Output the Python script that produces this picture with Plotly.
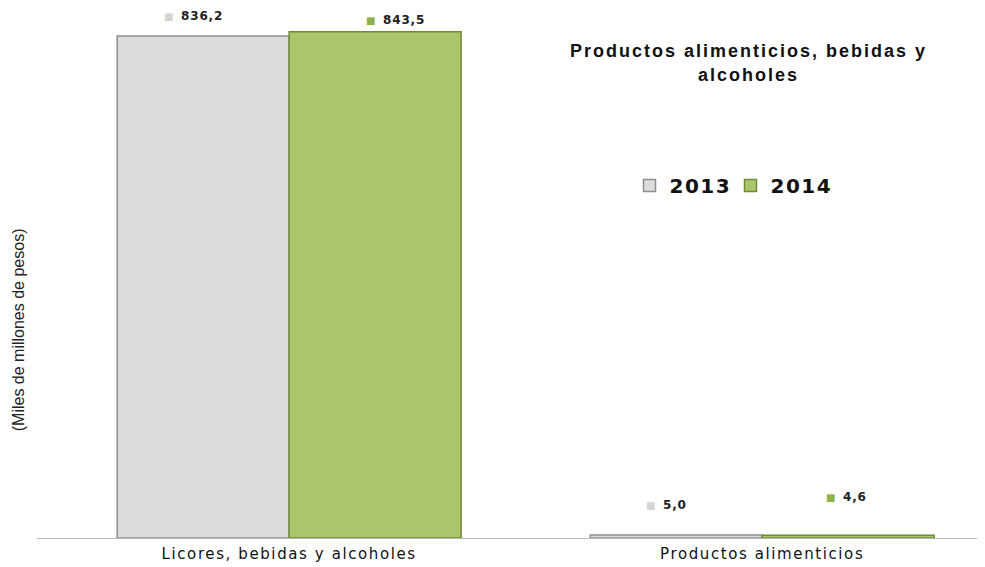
import plotly.graph_objects as go

# data
categories = ['Licores, bebidas y alcoholes', 'Productos alimenticios']
years = ['2013', '2014']
values_2013 = [836.2, 5.0]
values_2014 = [843.5, 4.6]
labels_2013 = ['836,2', '5,0']
labels_2014 = ['843,5', '4,6']

fill = {'2013': '#dcdcdc', '2014': '#aac66b'}
edge = {'2013': '#8e8e8e', '2014': '#6f8a3c'}
key = {'2013': '#d4d4d4', '2014': '#8fb04a'}

fig = go.Figure()
for yr, vals in zip(years, [values_2013, values_2014]):
    fig.add_trace(go.Bar(
        x=categories, y=vals,
        name=f"<span style='letter-spacing:1.5px'>{yr}</span>",
        marker=dict(color=fill[yr], line=dict(color=edge[yr], width=1.5)),
    ))

# value labels with little legend keys, placed the way the original has them
shifts = {'2013': [(-10, 20), (-10, 30)], '2014': [(20, 12), (-2, 38)]}
for yr, labs, vals in [('2013', labels_2013, values_2013), ('2014', labels_2014, values_2014)]:
    for i, cat in enumerate(categories):
        dx, dy = shifts[yr][i]
        off = -86 if yr == '2013' else 86
        fig.add_annotation(
            x=cat, y=vals[i], xref='x', yref='y',
            text=(f"<span style='color:{key[yr]};font-size:10px'>■</span>  "
                  f"<b><span style='letter-spacing:0.8px'>{labs[i]}</span></b>"),
            showarrow=False, xshift=off + dx, yshift=dy,
            font=dict(family='DejaVu Sans', size=12, color='#222222'),
        )

fig.add_annotation(
    text='(Miles de millones de pesos)', xref='paper', yref='paper',
    x=-0.02, y=0.392, textangle=-90, showarrow=False, xanchor='center', yanchor='middle',
    font=dict(family='Liberation Sans Narrow, Liberation Sans', size=16, color='#222222'),
)

# page body has an 8px margin, so the figure is 8px smaller than the window
fig.update_layout(
    width=977, height=559,
    margin=dict(l=29, r=0, t=0, b=29),
    paper_bgcolor='white', plot_bgcolor='white',
    barmode='group', bargap=0.273, bargroupgap=0,
    title=dict(
        text="<b><span style='letter-spacing:2px'>Productos alimenticios, bebidas y<br>alcoholes</span></b>",
        x=0.758, xanchor='center', y=0.912, yanchor='top',
        font=dict(family='Liberation Sans', size=18, color='#111111'),
    ),
    legend=dict(
        orientation='h', x=0.625, xanchor='left', y=0.665, yanchor='middle',
        font=dict(family='DejaVu Sans', size=20, color='#111111', weight='bold'),
        bgcolor='rgba(0,0,0,0)', itemwidth=30, traceorder='normal',
        entrywidth=56, entrywidthmode='pixels',
    ),
    xaxis=dict(
        range=[-0.533, 1.471], showline=True, linecolor='#b8b8b8', linewidth=1,
        ticks='', tickfont=dict(family='DejaVu Sans', size=15, color='#111111'),
        tickvals=categories, ticklabelstandoff=2,
        ticktext=[f"<span style='letter-spacing:1.6px'>{c}</span>" for c in categories],
        showgrid=False,
    ),
    yaxis=dict(
        range=[0, 883], showgrid=False, showticklabels=False, zeroline=False,
        showline=False,
    ),
)

fig.write_html('out.html')
